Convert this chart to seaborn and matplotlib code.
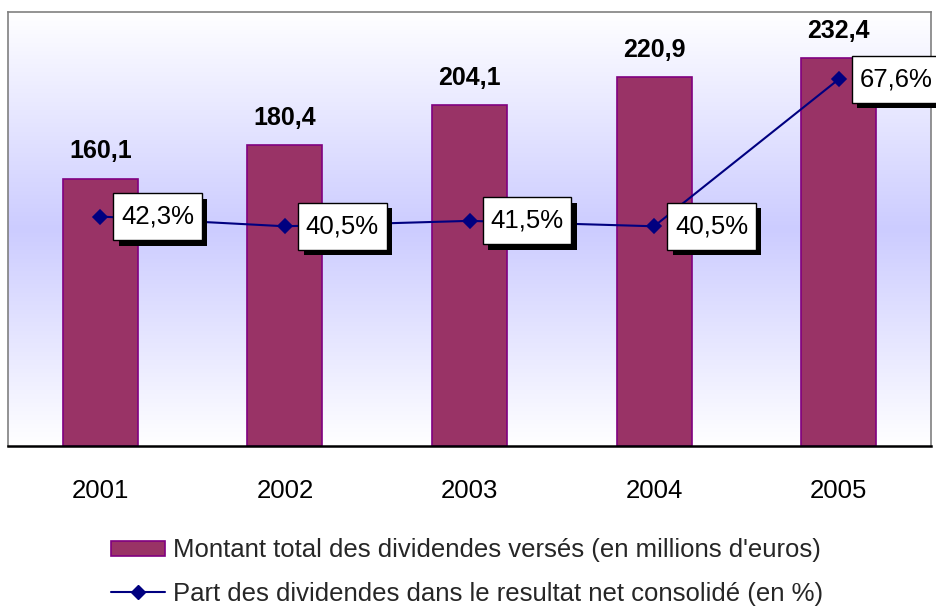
import numpy as np
import pandas as pd
import matplotlib
matplotlib.use('Agg')
import matplotlib.pyplot as plt
import seaborn as sns
from matplotlib import patheffects as pe
from matplotlib.colors import LinearSegmentedColormap
from matplotlib.patches import Patch
from matplotlib.lines import Line2D
from matplotlib.path import Path

years = ['2001', '2002', '2003', '2004', '2005']
dividends = [160.1, 180.4, 204.1, 220.9, 232.4]
payout = [42.3, 40.5, 41.5, 40.5, 67.6]
div_labels = ['160,1', '180,4', '204,1', '220,9', '232,4']
payout_labels = ['42,3%', '40,5%', '41,5%', '40,5%', '67,6%']
bar_name = "Montant total des dividendes versés (en millions d'euros)"
line_name = "Part des dividendes dans le resultat net consolidé (en %)"

sns.set_theme(style='white')
plt.rcParams['font.family'] = ['Liberation Sans', 'DejaVu Sans']

df = pd.DataFrame({'year': years, 'div': dividends, 'pct': payout})

BAR_FC = '#993366'
BAR_EC = '#800080'
LINE_C = '#000080'


class PadBox:
    """Rectangular box with separate horizontal / vertical padding."""
    def __init__(self, padx=0.3, pady=0.45):
        self.padx = padx
        self.pady = pady

    def __call__(self, x0, y0, width, height, mutation_size):
        px = self.padx * mutation_size
        py = self.pady * mutation_size
        x0, y0 = x0 - px, y0 - py
        x1, y1 = x0 + width + 2 * px, y0 + height + 2 * py
        return Path([(x0, y0), (x1, y0), (x1, y1), (x0, y1), (x0, y0)], closed=True)


fig = plt.figure(figsize=(9.36, 6.07), dpi=100)
ax = fig.add_axes([8/936, 1-446/607, 923/936, 434/607])

cmap = LinearSegmentedColormap.from_list('g', ['#ffffff', '#ccccff', '#ffffff'])
grad = np.linspace(0, 1, 256).reshape(-1, 1)
ax.imshow(grad, cmap=cmap, aspect='auto', extent=[0, 1, 0, 1],
          transform=ax.transAxes, zorder=0)

sns.barplot(data=df, x='year', y='div', ax=ax, color=BAR_FC, edgecolor=BAR_EC,
            linewidth=1.2, width=75/184.4, saturation=1, zorder=2)
ax.set_ylim(0, 260)

for i, (v, l) in enumerate(zip(dividends, div_labels)):
    ax.annotate(l, (i, v), xytext=(0, 11), textcoords='offset points',
                ha='center', va='bottom', fontsize=18, fontweight='bold',
                color='black', zorder=4)

ax2 = ax.twinx()
sns.pointplot(data=df, x='year', y='pct', ax=ax2, color=LINE_C, markers='D',
              markersize=7, linewidth=1.5, errorbar=None)
ax2.set_ylim(0, 80)

for i, (v, l) in enumerate(zip(payout, payout_labels)):
    t = ax2.annotate(l, (i, v), xytext=(15, 0), textcoords='offset points',
                     ha='left', va='center', fontsize=18.5, color='black',
                     bbox=dict(boxstyle=PadBox(0.3, 0.45), fc='white', ec='black', lw=1),
                     zorder=5, annotation_clip=False)
    t.get_bbox_patch().set_path_effects([
        pe.SimplePatchShadow(offset=(4, -4), shadow_rgbFace='black', alpha=1),
        pe.Normal()])

ax.set_xlim(-0.5, 4.5)
ax.set_xlabel('')
ax.set_ylabel('')
ax2.set_ylabel('')
ax.set_yticks([])
ax2.set_yticks([])
ax.tick_params(axis='x', length=0, pad=24, labelsize=18.5, labelcolor='black')

for s in ['left', 'top', 'right']:
    ax.spines[s].set_visible(True)
    ax.spines[s].set_color('#808080')
    ax.spines[s].set_linewidth(1.2)
ax.spines['bottom'].set_visible(True)
ax.spines['bottom'].set_color('black')
ax.spines['bottom'].set_linewidth(1.8)
for s in ax2.spines.values():
    s.set_visible(False)

handles = [Patch(fc=BAR_FC, ec=BAR_EC, lw=1.2, label=bar_name),
           Line2D([], [], color=LINE_C, marker='D', markersize=7, lw=1.5, label=line_name)]
fig.legend(handles=handles, loc='center', bbox_to_anchor=(467/936, 1-572/607),
           frameon=False, fontsize=18.5, handlelength=2.1, handleheight=0.5,
           handletextpad=0.3, labelspacing=0.75, borderpad=0)

fig.savefig('out.png', dpi=100)
